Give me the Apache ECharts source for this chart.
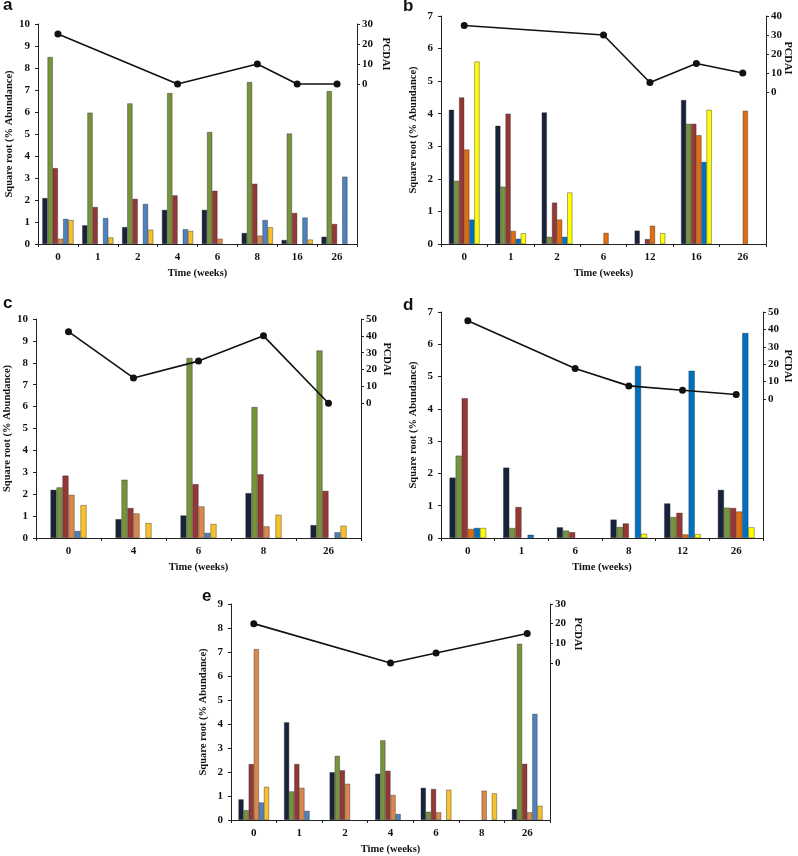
<!DOCTYPE html>
<html><head><meta charset="utf-8">
<script src="https://cdn.jsdelivr.net/npm/echarts@6/dist/echarts.min.js"></script>
<style>html,body{margin:0;padding:0;background:#fff}#c{width:798px;height:856px}</style>
</head><body><div id="c"></div>
<script>
// ---- Panel a ----
const catsA   = ['0','1','2','4','6','8','16','26'];
const navyA   = [2.09,0.85,0.77,1.55,1.55,0.50,0.18,0.33];
const greenA  = [8.50,5.97,6.39,6.86,5.09,7.36,5.02,6.95];
const redA    = [3.45,1.68,2.05,2.21,2.42,2.74,1.41,0.91];
const orangeA = [0.24,null,null,null,0.24,0.38,null,null];
const blueA   = [1.14,1.18,1.82,0.67,null,1.09,1.20,3.06];
const yellowA = [1.09,0.30,0.65,0.60,null,0.76,0.20,null];
const pcdaiA  = [25,null,null,0,null,10,0,0];
// ---- Panel b ----
const catsB   = ['0','1','2','6','12','16','26'];
const navyB   = [4.12,3.63,4.04,null,0.41,4.42,null];
const greenB  = [1.94,1.76,0.22,null,null,3.69,null];
const redB    = [4.50,4.00,1.27,null,0.15,3.69,null];
const orangeB = [2.90,0.40,0.75,0.34,0.56,3.34,4.09];
const blueB   = [0.75,0.16,0.22,null,null,2.52,null];
const yellowB = [5.60,0.33,1.58,null,0.33,4.12,null];
const pcdaiB  = [35,null,null,30,5,15,10];
// ---- Panel c ----
const catsC   = ['0','4','6','8','26'];
const navyC   = [2.20,0.86,1.03,2.05,0.59];
const greenC  = [2.31,2.66,8.22,5.98,8.56];
const redC    = [2.85,1.37,2.46,2.91,2.15];
const orangeC = [1.97,1.12,1.44,0.53,null];
const blueC   = [0.32,null,0.23,null,0.26];
const yellowC = [1.50,0.68,0.64,1.06,0.56];
const pcdaiC  = [42.5,15,25,40,0];
// ---- Panel d ----
const catsD   = ['0','1','6','8','12','26'];
const navyD   = [1.87,2.18,0.33,0.57,1.07,1.49];
const greenD  = [2.55,0.31,0.23,0.34,0.65,0.94];
const redD    = [4.33,0.96,0.18,0.45,0.78,0.93];
const orangeD = [0.28,null,null,null,0.11,0.82];
const blueD   = [0.31,0.10,null,5.33,5.18,6.35];
const yellowD = [0.31,null,null,0.13,0.12,0.33];
const pcdaiD  = [45,null,17.5,7.5,5,2.5];
// ---- Panel e ----
const catsE   = ['0','1','2','4','6','8','26'];
const navyE   = [0.86,4.07,1.99,1.93,1.34,null,0.45];
const greenE  = [0.41,1.19,2.67,3.32,0.34,null,7.34];
const redE    = [2.33,2.33,2.07,2.05,1.29,null,2.34];
const orangeE = [7.12,1.34,1.51,1.04,0.32,1.22,0.32];
const blueE   = [0.73,0.38,null,0.25,null,null,4.42];
const yellowE = [1.38,null,null,null,1.26,1.11,0.59];
const pcdaiE  = [20,null,null,0,5,null,15];

const leftMaxes  = [10,7,10,7,9];
const rightMaxes = [30,40,50,50,30];
const panelLetters = ['a','b','c','d','e'];

const paletteWarm = ['#17233a','#77933c','#953735','#d9894b','#4f81bd','#f7c12c'];
const paletteBright = ['#17233a','#77933c','#953735','#e46c0a','#0070c0','#ffff00'];

const panels = [
  {cats:catsA, bars:[navyA,greenA,redA,orangeA,blueA,yellowA], line:pcdaiA, pal:paletteWarm,
   grid:{left:38, top:24, width:319, height:220}, bw:5.2, letter:[3,14], pc:[386,54]},
  {cats:catsB, bars:[navyB,greenB,redB,orangeB,blueB,yellowB], line:pcdaiB, pal:paletteBright,
   grid:{left:441, top:16, width:325, height:228}, bw:5.1, letter:[403,15], pc:[788,58]},
  {cats:catsC, bars:[navyC,greenC,redC,orangeC,blueC,yellowC], line:pcdaiC, pal:paletteWarm,
   grid:{left:36, top:319, width:325, height:219}, bw:6, letter:[3,312], pc:[387,359]},
  {cats:catsD, bars:[navyD,greenD,redD,orangeD,blueD,yellowD], line:pcdaiD, pal:paletteBright,
   grid:{left:441, top:312, width:322, height:226}, bw:6.1, letter:[403,314], pc:[788,366]},
  {cats:catsE, bars:[navyE,greenE,redE,orangeE,blueE,yellowE], line:pcdaiE, pal:paletteWarm,
   grid:{left:231, top:604, width:319, height:219}, bw:5.1, letter:[202,605], pc:[578,634]}
];

const FONT = '"Liberation Serif","Times New Roman",serif';
const lab = {fontFamily:FONT, fontWeight:'bold', fontSize:11, color:'#111'};
const axLine = {show:true, lineStyle:{color:'#222', width:1}};

const option = {backgroundColor:'#fff', animation:false, grid:[], xAxis:[], yAxis:[], series:[], graphic:[]};

panels.forEach((p, i) => {
  option.grid.push(Object.assign({containLabel:false}, p.grid));
  option.xAxis.push({
    type:'category', gridIndex:i, data:p.cats,
    axisLine:axLine, axisTick:{show:true, length:3, lineStyle:{color:'#222'}},
    axisLabel:Object.assign({margin:8}, lab),
    name:'Time (weeks)', nameLocation:'middle', nameGap:24,
    nameTextStyle:Object.assign({}, lab, {fontSize:10.5})
  });
  option.yAxis.push({
    type:'value', gridIndex:i, min:0, max:leftMaxes[i], interval:1,
    axisLine:axLine, axisTick:{show:true, length:3, lineStyle:{color:'#222'}},
    splitLine:{show:false},
    axisLabel:Object.assign({margin:8}, lab),
    name:'Square root (% Abundance)', nameLocation:'middle', nameGap:22, nameRotate:90,
    nameTextStyle:Object.assign({}, lab, {fontSize:10.5})
  });
  const rv = [];
  for (let v = 0; v <= rightMaxes[i]; v += 10) rv.push(v);
  option.yAxis.push({
    type:'value', gridIndex:i, position:'right', min:-80, max:rightMaxes[i], interval:10,
    axisLine:axLine,
    axisTick:{show:true, length:3, customValues:rv, lineStyle:{color:'#222'}},
    splitLine:{show:false},
    axisLabel:Object.assign({margin:5, customValues:rv, formatter:v => (v < 0 ? '' : v)}, lab)
  });
  p.bars.forEach((d, k) => {
    option.series.push({
      type:'bar', xAxisIndex:i, yAxisIndex:2*i, data:d, barWidth:p.bw, barGap:'0%',
      itemStyle:{color:p.pal[k], borderColor:'rgba(40,40,40,0.8)', borderWidth:0.5},
      z:2
    });
  });
  option.series.push({
    type:'line', xAxisIndex:i, yAxisIndex:2*i+1, data:p.line, connectNulls:true,
    symbol:'circle', symbolSize:7, lineStyle:{color:'#111', width:1.6},
    itemStyle:{color:'#111'}, z:5
  });
  option.graphic.push({
    type:'text', left:p.letter[0], top:p.letter[1]-17,
    style:{text:panelLetters[i], font:'bold 17px "Liberation Sans", Arial, sans-serif', fill:'#111'}
  });
  option.graphic.push({
    type:'text', x:p.pc[0], y:p.pc[1], rotation:-Math.PI/2,
    style:{text:'PCDAI', font:'bold 10.5px ' + FONT, fill:'#111', align:'center', verticalAlign:'middle'}
  });
});

const chart = echarts.init(document.getElementById('c'), null, {renderer:'canvas'});
chart.setOption(option);
</script>
</body></html>
